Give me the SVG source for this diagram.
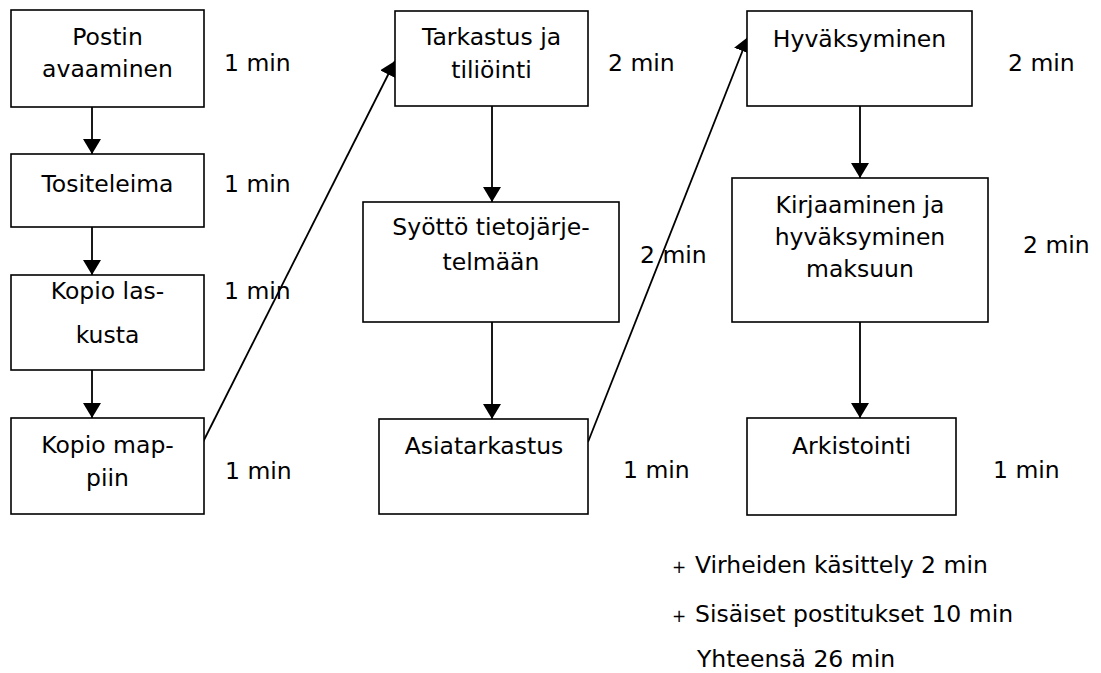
<svg xmlns="http://www.w3.org/2000/svg" width="1101" height="673" viewBox="0 0 1101 673">
<style>
.box{fill:#fff;stroke:#000;stroke-width:1.6}
.t{font-family:"DejaVu Sans","Open Sans",sans-serif;font-size:23.5px;fill:#000}
.c{text-anchor:middle}
.ln{stroke:#000;stroke-width:1.8;fill:none;marker-end:url(#ah)}
</style>
<defs>
<marker id="ah" markerUnits="userSpaceOnUse" markerWidth="16" markerHeight="18" refX="15" refY="9" orient="auto">
<path d="M0,0 L15,9 L0,18 Z" fill="#000"/>
</marker>
</defs>
<rect width="1101" height="673" fill="#fff"/>
<g id="connectors">
<line class="ln" x1="92" y1="107" x2="92" y2="154"/>
<line class="ln" x1="92" y1="227" x2="92" y2="275"/>
<line class="ln" x1="92" y1="370" x2="92" y2="418"/>
<line class="ln" x1="203" y1="442" x2="395" y2="61"/>
<line class="ln" x1="492" y1="106" x2="492" y2="202"/>
<line class="ln" x1="492" y1="322" x2="492" y2="419"/>
<line class="ln" x1="588" y1="442" x2="748" y2="37"/>
<line class="ln" x1="860" y1="106" x2="860" y2="178"/>
<line class="ln" x1="860" y1="322" x2="860" y2="418"/>
</g>
<g id="n1"><rect class="box" x="11" y="10" width="193" height="97"/><text class="t c" x="107.5" y="45">Postin</text><text class="t c" x="107.5" y="77">avaaminen</text></g>
<g id="n2"><rect class="box" x="11" y="154" width="193" height="73"/><text class="t c" x="107.5" y="192">Tositeleima</text></g>
<g id="n3"><rect class="box" x="11" y="275" width="193" height="95"/><text class="t c" x="107.5" y="299">Kopio las-</text><text class="t c" x="107.5" y="343">kusta</text></g>
<g id="n4"><rect class="box" x="11" y="418" width="193" height="96"/><text class="t c" x="107.5" y="453">Kopio map-</text><text class="t c" x="107.5" y="486">piin</text></g>
<g id="n5"><rect class="box" x="395" y="11" width="193" height="95"/><text class="t c" x="491.5" y="45">Tarkastus ja</text><text class="t c" x="491.5" y="78">tiliöinti</text></g>
<g id="n6"><rect class="box" x="363" y="202" width="256" height="120"/><text class="t c" x="491" y="235">Syöttö tietojärje-</text><text class="t c" x="491" y="270">telmään</text></g>
<g id="n7"><rect class="box" x="379" y="419" width="209" height="95"/><text class="t c" x="484" y="454">Asiatarkastus</text></g>
<g id="n8"><rect class="box" x="747" y="11" width="225" height="95"/><text class="t c" x="859.5" y="47">Hyväksyminen</text></g>
<g id="n9"><rect class="box" x="732" y="178" width="256" height="144"/><text class="t c" x="860" y="213">Kirjaaminen ja</text><text class="t c" x="860" y="245">hyväksyminen</text><text class="t c" x="860" y="277">maksuun</text></g>
<g id="n10"><rect class="box" x="747" y="418" width="209" height="97"/><text class="t c" x="851.5" y="454">Arkistointi</text></g>
<g id="labels">
<text class="t" x="224" y="71">1 min</text>
<text class="t" x="224" y="192">1 min</text>
<text class="t" x="224" y="299">1 min</text>
<text class="t" x="225" y="479">1 min</text>
<text class="t" x="608" y="71">2 min</text>
<text class="t" x="640" y="263">2 min</text>
<text class="t" x="623" y="478">1 min</text>
<text class="t" x="1008" y="71">2 min</text>
<text class="t" x="1023" y="253">2 min</text>
<text class="t" x="993" y="478">1 min</text>
<text class="t" x="672" y="573"><tspan font-size="17">+</tspan><tspan x="695">Virheiden käsittely 2 min</tspan></text>
<text class="t" x="672" y="622"><tspan font-size="17">+</tspan><tspan x="695">Sisäiset postitukset 10 min</tspan></text>
<text class="t" x="697" y="667">Yhteensä 26 min</text>
</g>
</svg>
